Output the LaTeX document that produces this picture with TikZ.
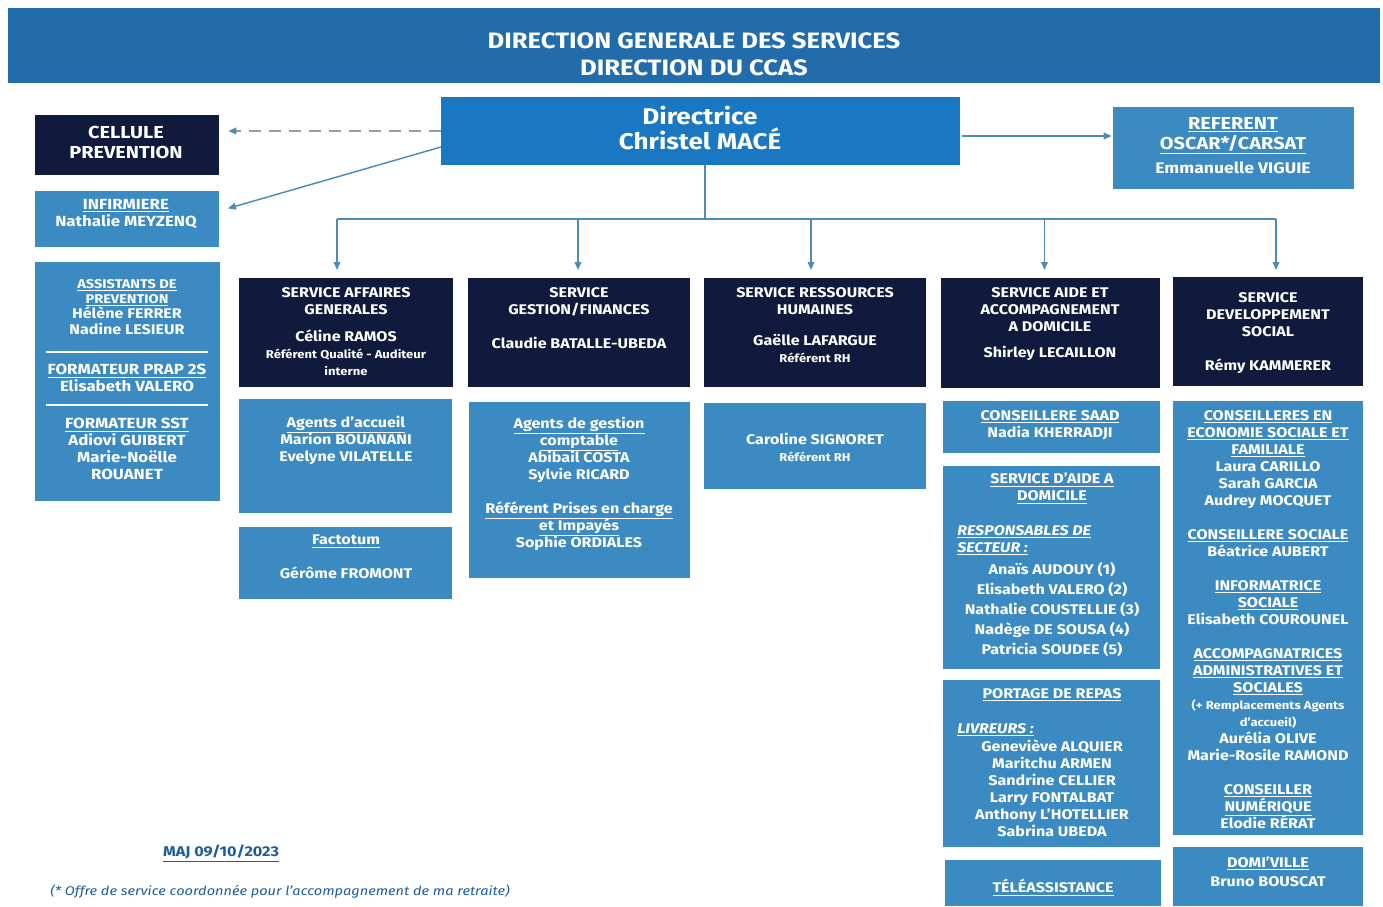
\documentclass[tikz,border=0pt]{standalone}
\usepackage{fontspec}
\setmainfont{Fira Sans}[FakeStretch=1.15]
\usetikzlibrary{positioning, calc, arrows.meta, fit}
\definecolor{bandblue}{HTML}{236CAC}
\definecolor{dirblue}{HTML}{1A78C2}
\definecolor{navy}{HTML}{0F1A3D}
\definecolor{lightblue}{HTML}{3C8AC2}
\definecolor{linkblue}{HTML}{4A8DB7}
\definecolor{dashgray}{HTML}{9C9C9C}
\definecolor{notetext}{HTML}{1E5C9E}
\newcommand{\hd}[1]{\raisebox{0pt}[\height][0pt]{\underline{#1}}}
\newcommand{\sm}{\fontsize{8.5}{10}\selectfont}
\tikzset{
  band/.style={fill=bandblue, inner sep=0pt, outer sep=0pt},
  dirbox/.style={fill=dirblue, inner sep=0pt, outer sep=0pt},
  navybox/.style={fill=navy, inner sep=0pt, outer sep=0pt},
  lightbox/.style={fill=lightblue, inner sep=0pt, outer sep=0pt},
  txt/.style={text=white, align=center, inner sep=0pt, anchor=north, yshift=-1.5pt,
    font=\bfseries\fontsize{10.5}{12.75}\selectfont},
  link/.style={draw=linkblue, line width=1.1pt},
  tip/.style={-{Triangle[length=6pt,width=5pt,color=linkblue]}}
}
\begin{document}
\begin{tikzpicture}[x=0.75pt, y=-0.75pt]
  \useasboundingbox (0,0) rectangle (1383,906);

  \node[band, fit={(8,8) (1380,83)}] (HEAD) {};
  \node[dirbox, fit={(441,97) (960,165)}] (DIR) {};
  \node[navybox, fit={(35,115) (219,175)}] (CP) {};
  \node[lightbox, fit={(35,191) (219,247)}] (INF) {};
  \node[lightbox, fit={(1113,107) (1354,189)}] (REF) {};
  \node[lightbox, fit={(35,262) (220,501)}] (PREV) {};

  \node[navybox, fit={(239,278) (453,387)}] (SAG) {};
  \node[navybox, fit={(468,278) (690,387)}] (SGF) {};
  \node[navybox, fit={(704,278) (926,387)}] (SRH) {};
  \node[navybox, fit={(941,278) (1160,388)}] (SAAD) {};
  \node[navybox, fit={(1173,277) (1363,386)}] (SDS) {};

  \node[lightbox, fit={(239,399) (452,513)}] (SAGa) {};
  \node[lightbox, fit={(239,527) (452,599)}] (SAGb) {};
  \node[lightbox, fit={(469,402) (690,578)}] (SGFa) {};
  \node[lightbox, fit={(704,403) (926,489)}] (SRHa) {};
  \node[lightbox, fit={(943,401) (1160,453)}] (SAADa) {};
  \node[lightbox, fit={(943,466) (1160,669)}] (SAADb) {};
  \node[lightbox, fit={(943,680) (1160,847)}] (SAADc) {};
  \node[lightbox, fit={(945,860) (1161,906)}] (SAADd) {};
  \node[lightbox, fit={(1173,401) (1363,835)}] (SDSa) {};
  \node[lightbox, fit={(1173,847) (1363,906)}] (SDSb) {};

  \draw[white, line width=1pt] (46,352) -- (208,352);
  \draw[white, line width=1pt] (46,405) -- (208,405);

  \node[txt, yshift=0.5pt, font=\bfseries\fontsize{16.7}{20}\selectfont] (HEADt) at (694,31) {DIRECTION GENERALE DES SERVICES\\DIRECTION DU CCAS};
  \node[txt, yshift=0.75pt, font=\bfseries\fontsize{17}{18.75}\selectfont] (DIRt) at (700,105) {Directrice\\Christel MACÉ};
  \node[txt, font=\bfseries\fontsize{13}{15}\selectfont] (CPt) at (126,124) {CELLULE\\PREVENTION};
  \node[txt, font=\bfseries\fontsize{11}{12.75}\selectfont] (INFt) at (126,197) {\hd{INFIRMIERE}\\Nathalie MEYZENQ};
  \node[txt, font=\bfseries\fontsize{13}{15}\selectfont] (REFt) at (1233,115) {\hd{REFERENT}\\\hd{OSCAR*/CARSAT}\\[3.5pt]{\fontsize{11.5}{13}\selectfont Emmanuelle VIGUIE}};

  \node[txt, font=\bfseries\fontsize{10.5}{11.5}\selectfont] (PREVt) at (127,277) {{\fontsize{9.5}{11}\selectfont\hd{ASSISTANTS DE}}\\{\fontsize{9.5}{11}\selectfont\hd{PREVENTION}}\\Hélène FERRER\\Nadine LESIEUR};
  \node[txt, font=\bfseries\fontsize{11}{12.75}\selectfont] (PRAPt) at (127,362) {\hd{FORMATEUR PRAP 2S}\\Elisabeth VALERO};
  \node[txt, font=\bfseries\fontsize{11}{12.75}\selectfont] (SSTt) at (127,416) {\hd{FORMATEUR SST}\\Adiovi GUIBERT\\Marie-Noëlle\\ROUANET};

  \node[txt] (SAGt) at (346,285) {SERVICE AFFAIRES\\GENERALES\\[7.5pt]Céline RAMOS\\{\sm Référent Qualité - Auditeur}\\{\sm interne}};
  \node[txt] (SGFt) at (579,285) {SERVICE\\GESTION/FINANCES\\[12.75pt]Claudie BATALLE-UBEDA};
  \node[txt] (SRHt) at (815,285) {SERVICE RESSOURCES\\HUMAINES\\[10.5pt]Gaëlle LAFARGUE\\{\sm Référent RH}};
  \node[txt] (SAADt) at (1050,285) {SERVICE AIDE ET\\ACCOMPAGNEMENT\\A DOMICILE\\[6.75pt]Shirley LECAILLON};
  \node[txt] (SDSt) at (1268,290) {SERVICE\\DEVELOPPEMENT\\SOCIAL\\[12.75pt]Rémy KAMMERER};

  \node[txt] (SAGat) at (346,414) {\hd{Agents d’accueil}\\Marion BOUANANI\\Evelyne VILATELLE};
  \node[txt] (SAGbt) at (346,533) {\hd{Factotum}\\[12.75pt]Gérôme FROMONT};
  \node[txt] (SGFat) at (579,415) {\hd{Agents de gestion}\\\hd{comptable}\\Abibail COSTA\\Sylvie RICARD\\[12.75pt]\hd{Référent Prises en charge}\\\hd{et Impayés}\\Sophie ORDIALES};
  \node[txt] (SRHat) at (815,431) {Caroline SIGNORET\\{\sm Référent RH}};
  \node[txt] (SAADat) at (1050,408) {\hd{CONSEILLERE SAAD}\\Nadia KHERRADJI};
  \node[txt] (SAADbt) at (1052,471) {\hd{SERVICE D’AIDE A}\\\hd{DOMICILE}};
  \node[txt, anchor=north west, align=left] (SECt) at (957,523) {\itshape\hd{RESPONSABLES DE}\\\itshape\hd{SECTEUR :}};
  \node[txt, font=\bfseries\fontsize{10.5}{15}\selectfont] (RSt) at (1052,560) {Anaïs AUDOUY (1)\\Elisabeth VALERO (2)\\Nathalie COUSTELLIE (3)\\Nadège DE SOUSA (4)\\Patricia SOUDEE (5)};
  \node[txt] (SAADct) at (1052,686) {\hd{PORTAGE DE REPAS}};
  \node[txt, anchor=north west, align=left] (LIVt) at (957,721) {\itshape\hd{LIVREURS :}};
  \node[txt] (LIVRt) at (1052,738) {Geneviève ALQUIER\\Maritchu ARMEN\\Sandrine CELLIER\\Larry FONTALBAT\\Anthony L’HOTELLIER\\Sabrina UBEDA};
  \node[txt] (SAADdt) at (1053,877) {\hd{TÉLÉASSISTANCE}};
  \node[txt] (SDSat) at (1268,408) {\hd{CONSEILLERES EN}\\\hd{ECONOMIE SOCIALE ET}\\\hd{FAMILIALE}\\Laura CARILLO\\Sarah GARCIA\\Audrey MOCQUET\\[12.75pt]\hd{CONSEILLERE SOCIALE}\\Béatrice AUBERT\\[12.75pt]\hd{INFORMATRICE}\\\hd{SOCIALE}\\Elisabeth COUROUNEL\\[12.75pt]\hd{ACCOMPAGNATRICES}\\\hd{ADMINISTRATIVES ET}\\\hd{SOCIALES}\\{\sm (+ Remplacements Agents}\\{\sm d’accueil)}\\Aurélia OLIVE\\Marie-Rosile RAMOND\\[12.75pt]\hd{CONSEILLER}\\\hd{NUMÉRIQUE}\\Elodie RÉRAT};
  \node[txt] (SDSbt) at (1268,854) {\hd{DOMI’VILLE}\\[2pt]Bruno BOUSCAT};

  \node[text=notetext, inner sep=0pt, font=\bfseries\fontsize{10.6}{12}\selectfont] (MAJ) at (221,851) {\hd{MAJ 09/10/2023}};
  \node[text=notetext, inner sep=0pt, font=\itshape\fontsize{9.5}{12}\selectfont] (NOTE) at (280,891) {(* Offre de service coordonnée pour l’accompagnement de ma retraite)};

  \coordinate (BUS) at (705,219);
  \draw[dashed, draw=dashgray, line width=1pt, dash pattern=on 9pt off 6pt, tip, shorten >=7pt] (DIR.west) -- (DIR.west -| CP.east);
  \draw[link, tip, shorten >=7pt] ([yshift=-12pt]DIR.west) -- ([yshift=6pt]INF.east);
  \draw[link, tip, shorten <=1.5pt, shorten >=1pt] ([yshift=-3.75pt]DIR.east) -- ([yshift=-3.75pt]DIR.east -| REF.west);
  \draw[link] (BUS |- DIR.south) -- (BUS);
  \draw[link] ([xshift=-6.75pt]SAG.north |- BUS) -- ([xshift=6pt]SDS.north |- BUS);
  \draw[link, tip, shorten >=6pt] ([xshift=-6.75pt]SAG.north |- BUS) -- ([xshift=-6.75pt]SAG.north);
  \draw[link, tip, shorten >=6pt] ([xshift=-0.75pt]SGF.north |- BUS) -- ([xshift=-0.75pt]SGF.north);
  \draw[link, tip, shorten >=6pt] ([xshift=-3pt]SRH.north |- BUS) -- ([xshift=-3pt]SRH.north);
  \draw[link, tip, shorten >=6pt] ([xshift=-4.5pt]SAAD.north |- BUS) -- ([xshift=-4.5pt]SAAD.north);
  \draw[link, tip, shorten >=5.25pt] ([xshift=6pt]SDS.north |- BUS) -- ([xshift=6pt]SDS.north);
\end{tikzpicture}
\end{document}
